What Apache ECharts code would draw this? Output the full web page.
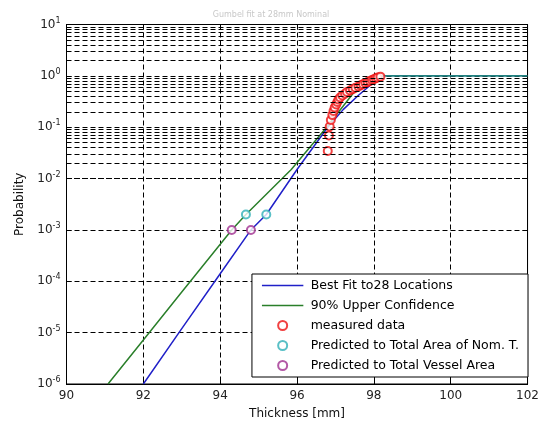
<!DOCTYPE html>
<html>
<head>
<meta charset="utf-8">
<script src="https://cdn.jsdelivr.net/npm/echarts@6/dist/echarts.min.js"></script>
<style>
  html, body { margin: 0; padding: 0; background: #fff; }
  #container { width: 542px; height: 425px; }
</style>
</head>
<body>
<div id="container"></div>
<script>
// best fit curve
const fitX = [92.0, 93.0, 94.0, 94.8, 95.2, 96.0, 96.8, 97.2, 97.6, 97.9, 98.1, 98.25];
const fitP = [1e-6, 1.2e-5, 1.4e-4, 1e-3, 2e-3, 1.5e-2, 0.1, 0.22, 0.42, 0.65, 0.85, 1];
// 90% upper confidence
const upperX = [91.08, 92.0, 93.0, 94.3, 94.67, 95.85, 96.77, 97.6, 98.0, 98.25];
const upperP = [1e-6, 7.2e-6, 6.2e-5, 1e-3, 2e-3, 1.5e-2, 0.1, 0.62, 0.88, 1];
// both curves capped at 1
const capX = [98.25, 102];
const capP = [1, 1];
// measured data, 28 locations
const measX = [96.80, 96.83, 96.85, 96.88, 96.92, 96.95, 96.98, 97.02, 97.05, 97.08,
  97.12, 97.18, 97.25, 97.30, 97.38, 97.45, 97.52, 97.60, 97.66, 97.72,
  97.78, 97.84, 97.90, 97.95, 98.00, 98.05, 98.10, 98.17];
const measP = [0.0345, 0.069, 0.103, 0.138, 0.172, 0.207, 0.241, 0.276, 0.310, 0.345,
  0.379, 0.414, 0.448, 0.483, 0.517, 0.552, 0.586, 0.621, 0.655, 0.690,
  0.724, 0.759, 0.793, 0.828, 0.862, 0.897, 0.931, 0.966];
const nomX = [94.67, 95.2];
const nomP = [2e-3, 2e-3];
const vesselX = [94.3, 94.8];
const vesselP = [1e-3, 1e-3];
// log grid
const decades = [1e-6, 1e-5, 1e-4, 1e-3, 1e-2, 1e-1, 1];
const minorMult = [2, 3, 4, 5, 6, 7, 8, 9];

const pairs = (xs, ys) => xs.map((x, i) => [x, ys[i]]);
const font = 'DejaVu Sans, sans-serif';
const gridDash = { color: '#000', width: 1, type: [5, 3] };
// thin horizontal line icon; degenerate points keep the box 10px tall
const lineIcon = 'path://M0,0L0,0M0,4.3L46,4.3L46,5.7L0,5.7ZM0,10L0,10';

const minorLines = [];
decades.forEach(d => minorMult.forEach(m => minorLines.push({ yAxis: d * m })));

const myChart = echarts.init(document.getElementById('container'), null, { renderer: 'canvas' });
const option = {
  animation: false,
  textStyle: { fontFamily: font },
  title: {
    text: 'Gumbel fit at 28mm Nominal',
    left: 'center',
    top: 6,
    textStyle: { fontSize: 8, color: '#c8c8c8', fontWeight: 'normal', fontFamily: font }
  },
  grid: { left: 66.5, right: 10, top: 24.5, bottom: 40, show: true, borderColor: '#000', borderWidth: 1 },
  legend: {
    orient: 'vertical',
    right: 14,
    top: 274,
    itemWidth: 46,
    itemHeight: 9,
    itemGap: 7,
    padding: [5, 9, 5, 10],
    borderColor: '#000',
    borderWidth: 1,
    borderRadius: 0,
    backgroundColor: '#fff',
    textStyle: { fontSize: 12.5, color: '#000', fontFamily: font },
    data: [
      { name: 'Best Fit to28 Locations', icon: lineIcon },
      { name: '90% Upper Confidence', icon: lineIcon },
      'measured data',
      'Predicted to Total Area of Nom. T.',
      'Predicted to Total Vessel Area'
    ]
  },
  xAxis: [
    {
      type: 'value',
      min: 90,
      max: 102,
      interval: 2,
      name: 'Thickness [mm]',
      nameLocation: 'middle',
      nameGap: 24,
      nameTextStyle: { fontSize: 12, color: '#111', fontFamily: font },
      axisLine: { show: true, lineStyle: { color: '#000' } },
      axisTick: { inside: true, length: 5, lineStyle: { color: '#000' } },
      axisLabel: { fontSize: 12, color: '#222', margin: 6 },
      splitLine: { show: true, lineStyle: gridDash }
    },
    {
      type: 'value',
      position: 'top',
      min: 90,
      max: 102,
      interval: 2,
      axisLine: { show: true, lineStyle: { color: '#000' } },
      axisTick: { inside: true, length: 5, lineStyle: { color: '#000' } },
      axisLabel: { show: false },
      splitLine: { show: false }
    }
  ],
  yAxis: [
    {
      type: 'log',
      logBase: 10,
      min: 1e-6,
      max: 10,
      splitNumber: 7,
      name: 'Probability',
      nameLocation: 'middle',
      nameGap: 40,
      nameTextStyle: { fontSize: 12, color: '#111', fontFamily: font },
      axisLine: { show: true, lineStyle: { color: '#000' } },
      axisTick: { inside: true, length: 5, lineStyle: { color: '#000' } },
      axisLabel: {
        margin: 6,
        formatter: v => '{b|10}{s|' + Math.round(Math.log10(v)) + '}',
        rich: {
          b: { fontSize: 12, color: '#222', fontFamily: font },
          s: { fontSize: 8, color: '#222', fontFamily: font, verticalAlign: 'bottom', padding: [0, 0, 8, 0] }
        }
      },
      splitLine: { show: true, lineStyle: gridDash }
    },
    {
      type: 'log',
      logBase: 10,
      position: 'right',
      min: 1e-6,
      max: 10,
      splitNumber: 7,
      axisLine: { show: true, lineStyle: { color: '#000' } },
      axisTick: { inside: true, length: 5, lineStyle: { color: '#000' } },
      axisLabel: { show: false },
      splitLine: { show: false }
    }
  ],
  series: [
    {
      name: 'grid',
      type: 'line',
      data: [],
      silent: true,
      markLine: {
        symbol: ['none', 'none'],
        silent: true,
        label: { show: false },
        lineStyle: gridDash,
        data: minorLines
      }
    },
    {
      name: 'Best Fit to28 Locations',
      type: 'line',
      showSymbol: false,
      lineStyle: { color: '#2020c8', width: 1.5 },
      itemStyle: { color: '#2020c8' },
      data: pairs(fitX, fitP),
      z: 3
    },
    {
      name: '90% Upper Confidence',
      type: 'line',
      showSymbol: false,
      lineStyle: { color: '#2a7f2a', width: 1.5 },
      itemStyle: { color: '#2a7f2a' },
      data: pairs(upperX, upperP),
      z: 3
    },
    {
      name: 'cap',
      type: 'line',
      showSymbol: false,
      symbol: 'none',
      lineStyle: { color: '#1f8080', width: 1.8 },
      data: pairs(capX, capP),
      z: 3
    },
    {
      name: 'measured data',
      type: 'scatter',
      symbol: 'emptyCircle',
      symbolSize: 8,
      itemStyle: { color: '#ee1111', borderColor: '#ee1111', borderWidth: 1.5 },
      data: pairs(measX, measP),
      z: 4
    },
    {
      name: 'Predicted to Total Area of Nom. T.',
      type: 'scatter',
      symbol: 'emptyCircle',
      symbolSize: 8,
      itemStyle: { color: '#30b0b8', borderColor: '#30b0b8', borderWidth: 1.5 },
      data: pairs(nomX, nomP),
      z: 4
    },
    {
      name: 'Predicted to Total Vessel Area',
      type: 'scatter',
      symbol: 'emptyCircle',
      symbolSize: 8,
      itemStyle: { color: '#a03090', borderColor: '#a03090', borderWidth: 1.5 },
      data: pairs(vesselX, vesselP),
      z: 4
    }
  ]
};
myChart.setOption(option);
</script>
</body>
</html>
